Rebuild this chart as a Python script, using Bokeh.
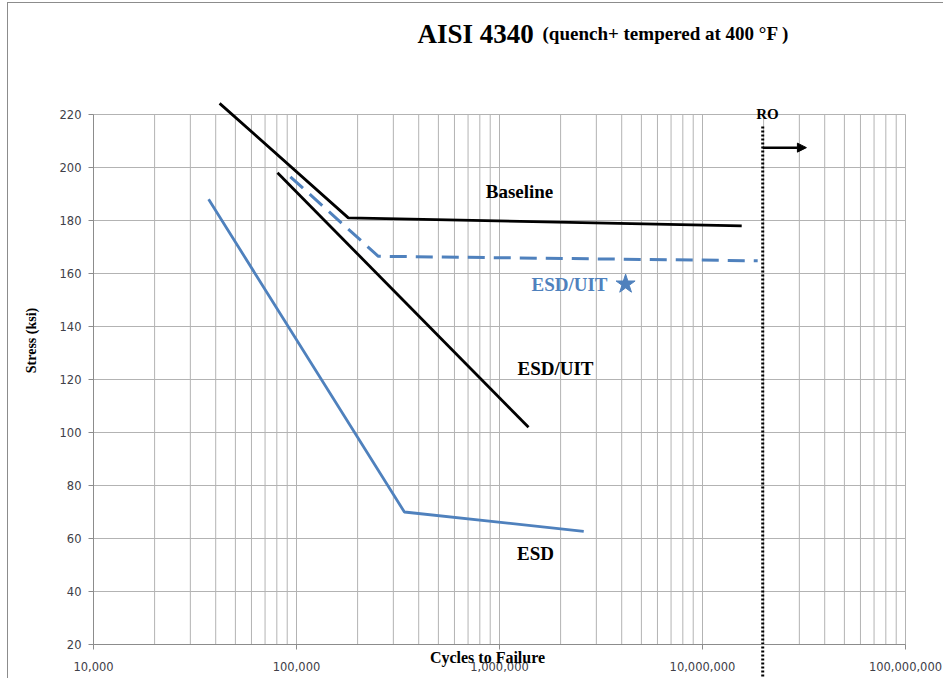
import math
from bokeh.plotting import figure
from bokeh.models import Range1d, FixedTicker, NumeralTickFormatter, Label, Arrow, NormalHead
from bokeh.embed import file_html
from bokeh.resources import INLINE

# ---- data ----
baseline_cycles = [41800, 180000, 15600000]
baseline_stress = [224.2, 181.0, 178.0]

esd_uit_cycles = [80600, 1390000]
esd_uit_stress = [198.0, 102.0]

esd_uit_dash_cycles = [93300, 253000, 18700000]
esd_uit_dash_stress = [196.5, 166.5, 164.8]

esd_cycles = [36900, 340000, 2600000]
esd_stress = [188.0, 70.0, 62.7]

star_cycles = [4180000]
star_stress = [156.0]

ro_cycles = [1.98e7]
ro_arrow_end = 3.25e7
ro_arrow_stress = 207.5

x_major = [1e4, 1e5, 1e6, 1e7, 1e8]
x_minor = [m * 10 ** d for d in range(4, 8) for m in range(2, 10)]
y_ticks = [20, 40, 60, 80, 100, 120, 140, 160, 180, 200, 220]

# ---- layout (page pixels) ----
PX_L, PX_R = 93, 905      # x of first / last decade
PX_T, PX_B = 114, 644     # y of top / bottom stress tick
CX0, CY0 = 8, 3           # canvas origin on the page
W, H = 936, 676

BLUE = "#4f81bd"
GRID = "#b3b3b3"
AXIS = "#8c8c8c"
SERIF = "Liberation Serif"

lx0, lx1 = math.log10(x_major[0]), math.log10(x_major[-1])
y0, y1 = y_ticks[0], y_ticks[-1]


def px_x(px):
    return 10 ** (lx0 + (px - PX_L) * (lx1 - lx0) / (PX_R - PX_L))


def px_y(py):
    return y0 + (PX_B - py) * (y1 - y0) / (PX_B - PX_T)


p = figure(width=W, height=H, x_axis_type="log",
           x_range=Range1d(px_x(CX0), px_x(CX0 + W)),
           y_range=Range1d(px_y(CY0 + H), px_y(CY0)),
           output_backend="svg", toolbar_location=None,
           min_border=0, min_border_left=0, min_border_right=0,
           min_border_top=0, min_border_bottom=0)
p.outline_line_color = None
p.xgrid.visible = False
p.ygrid.visible = False
p.styles = {"margin-left": "7px", "margin-top": "2px",
            "border-left": "1px solid #8c8c8c", "border-top": "1px solid #8c8c8c"}

# grid from tick lists, bounded to the plot area
gx = x_major + x_minor
p.segment(x0=gx, y0=[y0] * len(gx), x1=gx, y1=[y1] * len(gx), line_color=GRID, line_width=1)
p.segment(x0=[x_major[0]] * len(y_ticks), y0=y_ticks, x1=[x_major[-1]] * len(y_ticks), y1=y_ticks,
          line_color=GRID, line_width=1)

# axes pinned inside the full-canvas frame
p.xaxis.fixed_location = y0
p.yaxis.fixed_location = x_major[0]
p.xaxis.bounds = (x_major[0], x_major[-1])
p.yaxis.bounds = (y0, y1)
p.xaxis.ticker = FixedTicker(ticks=x_major, minor_ticks=[])
p.xaxis.formatter = NumeralTickFormatter(format="0,0")
p.yaxis.ticker = FixedTicker(ticks=y_ticks, minor_ticks=[])
for ax in (p.xaxis, p.yaxis):
    ax.axis_line_color = AXIS
    ax.major_tick_line_color = AXIS
    ax.major_tick_out = 5
    ax.major_tick_in = 0
    ax.minor_tick_out = 0
    ax.minor_tick_in = 0
    ax.major_label_text_font = "DejaVu Sans"
    ax.major_label_text_font_size = "11.5px"
    ax.major_label_text_color = "#404048"
p.xaxis.major_label_standoff = 12
p.yaxis.major_label_standoff = 7

# series
p.line(esd_cycles, esd_stress, line_color=BLUE, line_width=2.8)
p.line(esd_uit_dash_cycles, esd_uit_dash_stress, line_color=BLUE, line_width=3, line_dash="17 9")
p.line(baseline_cycles, baseline_stress, line_color="black", line_width=2.8)
p.line(esd_uit_cycles, esd_uit_stress, line_color="black", line_width=2.8)
p.scatter(star_cycles, star_stress, marker="star", size=20, fill_color=BLUE, line_color=BLUE)

# run-out line (reaches below the axis, as in the reference) and arrow
p.segment(x0=ro_cycles, y0=[px_y(126)], x1=ro_cycles, y1=[px_y(679)],
          line_color="black", line_width=3, line_dash="2 2")
p.add_layout(Arrow(x_start=ro_cycles[0], y_start=ro_arrow_stress, x_end=ro_arrow_end, y_end=ro_arrow_stress,
                   end=NormalHead(size=9, fill_color="black", line_color="black"),
                   line_color="black", line_width=2.5))


def lab(px, py, text, size, color="black", align="center", baseline="middle", angle=0.0):
    p.add_layout(Label(x=px_x(px), y=px_y(py), text=text, text_font=SERIF, text_font_style="bold",
                       text_font_size=size, text_color=color, text_align=align,
                       text_baseline=baseline, angle=angle))


lab(417, 33, "AISI 4340", "27px", align="left", baseline="alphabetic")
lab(542, 33, "(quench+ tempered at 400 °F )", "19px", align="left", baseline="alphabetic")
lab(767, 113, "RO", "15px")
lab(519, 191, "Baseline", "19px")
lab(569, 284, "ESD/UIT", "19px", color=BLUE)
lab(555, 368, "ESD/UIT", "19px")
lab(535, 553, "ESD", "19px")
lab(489, 657, "Cycles  to Failure", "16px")
lab(31, 340, "Stress (ksi)", "14px", angle=math.pi / 2)

open("out.html", "w").write(file_html(p, INLINE))
